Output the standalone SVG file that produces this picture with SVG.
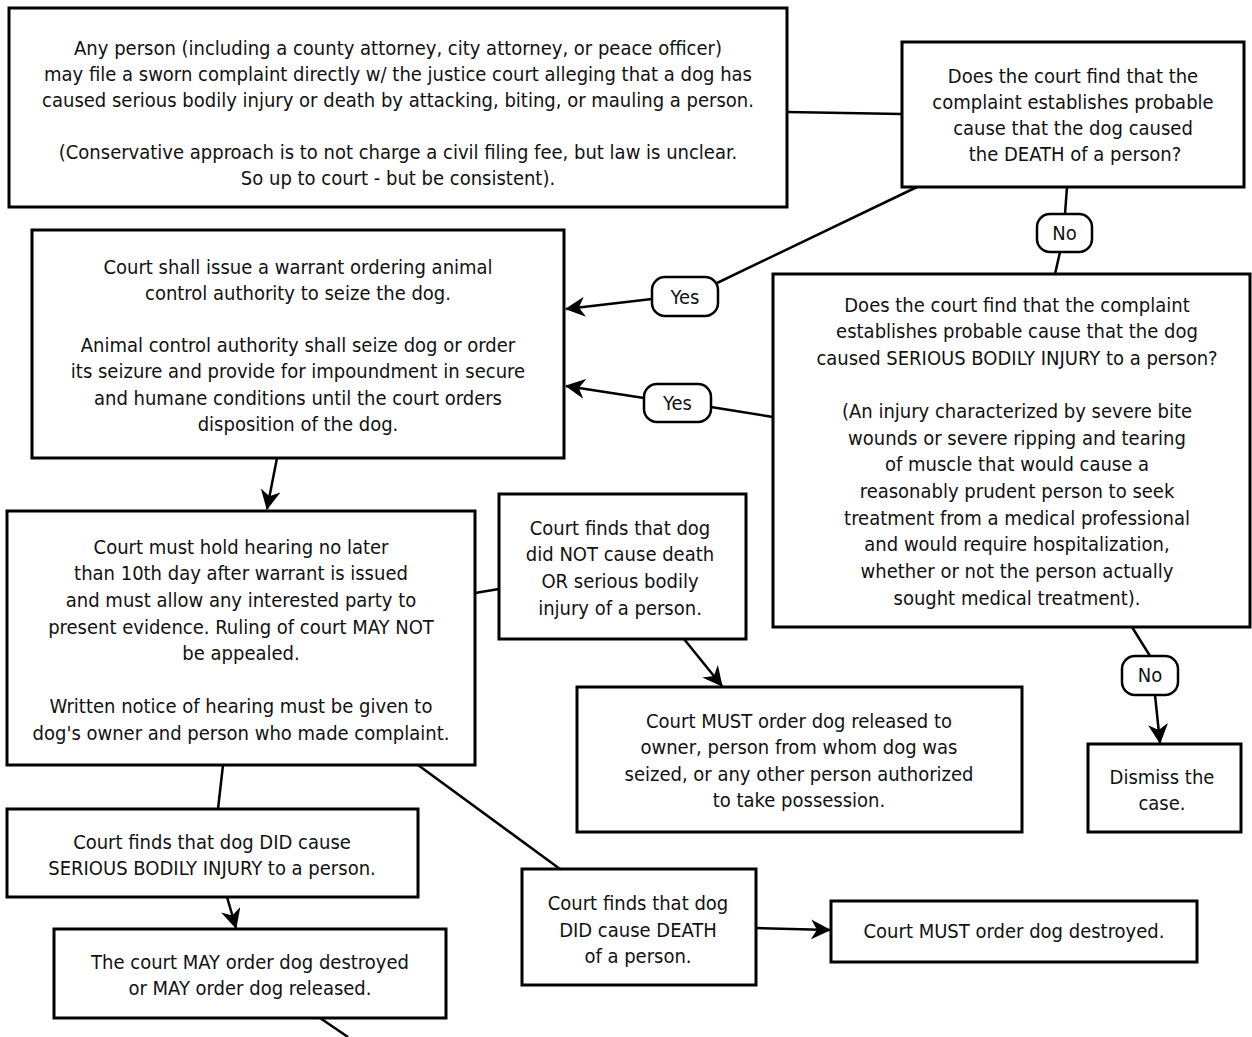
<svg xmlns="http://www.w3.org/2000/svg" width="1252" height="1037" viewBox="0 0 1252 1037">
<style>
.box{fill:#fff;stroke:#000;stroke-width:3}
.pill{fill:#fff;stroke:#000;stroke-width:2.5}
.t{font-family:"DejaVu Sans Condensed","DejaVu Sans",sans-serif;font-size:20px;fill:#111;text-anchor:middle}
.c{fill:none;stroke:#000;stroke-width:2.5}
.a{fill:none;stroke:#000;stroke-width:2.5;marker-end:url(#ah)}
</style>
<defs>
<marker id="ah" viewBox="0 0 20 20" refX="19" refY="10" markerWidth="20" markerHeight="20" orient="auto" markerUnits="userSpaceOnUse"><path d="M0,0 L20,10 L0,20 L6,10 Z" fill="#000"/></marker>
</defs>
<rect width="1252" height="1037" fill="#fff"/>
<g id="connectors">
<line class="c" x1="787" y1="112" x2="902" y2="114"/>
<line class="c" x1="917" y1="187" x2="717" y2="283"/>
<line class="a" x1="652" y1="299" x2="566" y2="309"/>
<line class="c" x1="1067" y1="187" x2="1065" y2="214"/>
<line class="c" x1="1060" y1="252" x2="1055" y2="274"/>
<line class="c" x1="773" y1="417" x2="711" y2="407"/>
<line class="a" x1="644" y1="398" x2="566" y2="386"/>
<line class="a" x1="277" y1="458" x2="267" y2="509"/>
<line class="c" x1="475" y1="593" x2="499" y2="589"/>
<line class="a" x1="684" y1="639" x2="722" y2="686"/>
<line class="c" x1="1132" y1="627" x2="1150" y2="656"/>
<line class="a" x1="1155" y1="695" x2="1160" y2="743"/>
<line class="c" x1="223" y1="765" x2="218" y2="809"/>
<line class="a" x1="227" y1="897" x2="236" y2="928"/>
<line class="c" x1="320" y1="1018" x2="348" y2="1037"/>
<line class="c" x1="418" y1="765" x2="560" y2="869"/>
<line class="a" x1="756" y1="928" x2="830" y2="930"/>
</g>
<g id="n-complaint">
<rect class="box" x="9" y="8" width="778" height="199"/>
<text class="t" x="398" y="55">Any person (including a county attorney, city attorney, or peace officer)</text>
<text class="t" x="398" y="81">may file a sworn complaint directly w/ the justice court alleging that a dog has</text>
<text class="t" x="398" y="107">caused serious bodily injury or death by attacking, biting, or mauling a person.</text>
<text class="t" x="398" y="159">(Conservative approach is to not charge a civil filing fee, but law is unclear.</text>
<text class="t" x="398" y="185">So up to court - but be consistent).</text>
</g>
<g id="n-death-q">
<rect class="box" x="902" y="42" width="342" height="145"/>
<text class="t" x="1073" y="83">Does the court find that the</text>
<text class="t" x="1073" y="109">complaint establishes probable</text>
<text class="t" x="1073" y="135">cause that the dog caused</text>
<text class="t" x="1075" y="161">the DEATH of a person?</text>
</g>
<g id="n-warrant">
<rect class="box" x="32" y="230" width="532" height="228"/>
<text class="t" x="298" y="274">Court shall issue a warrant ordering animal</text>
<text class="t" x="298" y="300">control authority to seize the dog.</text>
<text class="t" x="298" y="352">Animal control authority shall seize dog or order</text>
<text class="t" x="298" y="378">its seizure and provide for impoundment in secure</text>
<text class="t" x="298" y="405">and humane conditions until the court orders</text>
<text class="t" x="298" y="431">disposition of the dog.</text>
</g>
<g id="n-sbi-q">
<rect class="box" x="773" y="274" width="477" height="353"/>
<text class="t" x="1017" y="312">Does the court find that the complaint</text>
<text class="t" x="1017" y="338">establishes probable cause that the dog</text>
<text class="t" x="1017" y="365">caused SERIOUS BODILY INJURY to a person?</text>
<text class="t" x="1017" y="418">(An injury characterized by severe bite</text>
<text class="t" x="1017" y="445">wounds or severe ripping and tearing</text>
<text class="t" x="1017" y="471">of muscle that would cause a</text>
<text class="t" x="1017" y="498">reasonably prudent person to seek</text>
<text class="t" x="1017" y="525">treatment from a medical professional</text>
<text class="t" x="1017" y="551">and would require hospitalization,</text>
<text class="t" x="1017" y="578">whether or not the person actually</text>
<text class="t" x="1017" y="605">sought medical treatment).</text>
</g>
<g id="n-hearing">
<rect class="box" x="7" y="511" width="468" height="254"/>
<text class="t" x="241" y="554">Court must hold hearing no later</text>
<text class="t" x="241" y="580">than 10th day after warrant is issued</text>
<text class="t" x="241" y="607">and must allow any interested party to</text>
<text class="t" x="241" y="634">present evidence. Ruling of court MAY NOT</text>
<text class="t" x="241" y="660">be appealed.</text>
<text class="t" x="241" y="713">Written notice of hearing must be given to</text>
<text class="t" x="241" y="740">dog's owner and person who made complaint.</text>
</g>
<g id="n-not-cause">
<rect class="box" x="499" y="494" width="247" height="145"/>
<text class="t" x="620" y="535">Court finds that dog</text>
<text class="t" x="620" y="561">did NOT cause death</text>
<text class="t" x="620" y="588">OR serious bodily</text>
<text class="t" x="620" y="615">injury of a person.</text>
</g>
<g id="n-release">
<rect class="box" x="577" y="687" width="445" height="145"/>
<text class="t" x="799" y="728">Court MUST order dog released to</text>
<text class="t" x="799" y="754">owner, person from whom dog was</text>
<text class="t" x="799" y="781">seized, or any other person authorized</text>
<text class="t" x="799" y="807">to take possession.</text>
</g>
<g id="n-dismiss">
<rect class="box" x="1088" y="744" width="153" height="88"/>
<text class="t" x="1162" y="784">Dismiss the</text>
<text class="t" x="1162" y="810">case.</text>
</g>
<g id="n-did-sbi">
<rect class="box" x="7" y="809" width="411" height="88"/>
<text class="t" x="212" y="849">Court finds that dog DID cause</text>
<text class="t" x="212" y="875">SERIOUS BODILY INJURY to a person.</text>
</g>
<g id="n-may">
<rect class="box" x="54" y="929" width="392" height="89"/>
<text class="t" x="250" y="969">The court MAY order dog destroyed</text>
<text class="t" x="250" y="995">or MAY order dog released.</text>
</g>
<g id="n-did-death">
<rect class="box" x="522" y="869" width="234" height="116"/>
<text class="t" x="638" y="910">Court finds that dog</text>
<text class="t" x="638" y="937">DID cause DEATH</text>
<text class="t" x="638" y="963">of a person.</text>
</g>
<g id="n-destroy">
<rect class="box" x="831" y="901" width="366" height="61"/>
<text class="t" x="1014" y="938">Court MUST order dog destroyed.</text>
</g>
<g id="l-no1">
<rect class="pill" x="1037" y="214" width="55" height="38" rx="13"/>
<text class="t" x="1064.5" y="240">No</text>
</g>
<g id="l-yes1">
<rect class="pill" x="652" y="277" width="66" height="39" rx="13"/>
<text class="t" x="685" y="304">Yes</text>
</g>
<g id="l-yes2">
<rect class="pill" x="644" y="384" width="67" height="38" rx="13"/>
<text class="t" x="677.5" y="410">Yes</text>
</g>
<g id="l-no2">
<rect class="pill" x="1122" y="656" width="56" height="39" rx="13"/>
<text class="t" x="1150" y="682">No</text>
</g>
</svg>
